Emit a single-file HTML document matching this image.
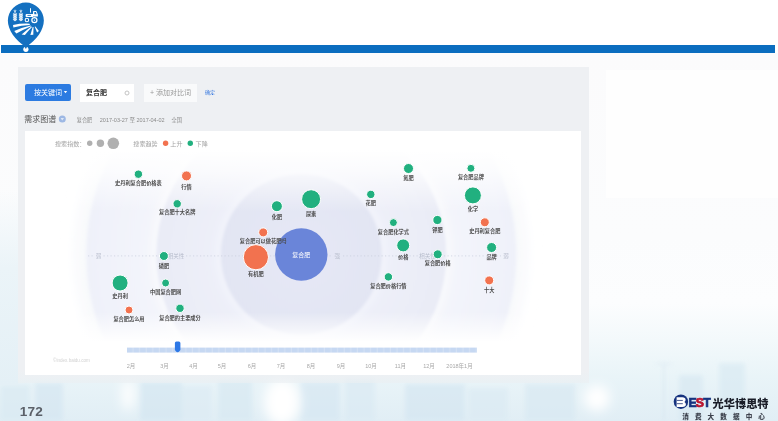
<!DOCTYPE html>
<html><head><meta charset="utf-8">
<style>
*{margin:0;padding:0;box-sizing:border-box}
html,body{width:778px;height:421px;overflow:hidden;background:#fff}
body{position:relative;font-family:"Liberation Sans","Noto Sans CJK SC",sans-serif}
.abs{position:absolute}
#bg{left:0;top:53px;width:778px;height:368px;background:linear-gradient(180deg,#fbfbfc 0%,#fbfcfd 50%,#fcfdfe 68%,#f3f9fb 78%,#e9f4f8 88%,#e1eef5 100%)}
#bar{left:1px;top:45px;width:774px;height:8px;background:#0b6dbf}
#panel{left:18px;top:67px;width:571px;height:316px;background:linear-gradient(180deg,#eef0f3 0%,#eef0f3 96%,rgba(235,239,242,0.6) 100%)}
#chart{left:25px;top:131px;width:556px;height:244px;background:#fff}
.btn{left:25px;top:84px;width:46px;height:17px;background:#2c7be1;border-radius:2px;color:#fff;font-size:7px;line-height:17px;padding-left:9px;font-family:"Liberation Sans","Noto Sans CJK SC",sans-serif}
.inp{background:#fff;height:18px;top:84px}
.t{position:absolute;white-space:nowrap;font-family:"Liberation Sans","Noto Sans CJK SC",sans-serif}
#num{left:19.8px;top:404px;font-size:13.6px;letter-spacing:0.2px;font-weight:bold;color:#5b6068}
</style></head><body>
<div id="bg" class="abs"></div>
<svg class="abs" style="left:0;top:53px" width="778" height="368" viewBox="0 53 778 368">
<defs>
<filter id="bl" x="-20%" y="-20%" width="140%" height="140%"><feGaussianBlur stdDeviation="2.2"/></filter>
<filter id="bl2" x="-50%" y="-50%" width="200%" height="200%"><feGaussianBlur stdDeviation="6"/></filter>
</defs>
<g filter="url(#bl)" opacity="0.6">
<rect x="0" y="385" width="30" height="36" fill="#d8e9f2"/>
<rect x="35" y="383" width="28" height="38" fill="#d3e5f1"/>
<rect x="140" y="382" width="42" height="39" fill="#d2e5f1"/>
<rect x="182" y="386" width="30" height="35" fill="#dcebf4"/>
<rect x="218" y="380" width="34" height="41" fill="#d6e8f2"/>
<rect x="300" y="382" width="40" height="39" fill="#d4e6f2"/>
<rect x="345" y="378" width="30" height="43" fill="#d9e9f3"/>
<rect x="405" y="384" width="60" height="37" fill="#d3e5f1"/>
<rect x="468" y="388" width="40" height="33" fill="#daeaf3"/>
<rect x="525" y="384" width="50" height="37" fill="#d7e8f2"/>
<rect x="679" y="375" width="24" height="46" fill="#d5e7f1"/>
<rect x="719" y="363" width="26" height="58" fill="#d7e9f2"/>
<rect x="663" y="364" width="1.6" height="57" fill="#cfe0ec"/><rect x="656" y="363" width="16" height="1.4" fill="#d3e3ee"/>
</g>
<g filter="url(#bl2)">
<ellipse cx="128" cy="395" rx="6" ry="16" fill="#ffffff"/>
<ellipse cx="282" cy="402" rx="18" ry="24" fill="#ffffff"/>
<ellipse cx="597" cy="398" rx="13" ry="13" fill="#ffffff"/>
</g>
</svg>
<!-- logo -->
<svg class="abs" style="left:0;top:0" width="60" height="56" viewBox="0 0 60 56">
  <path d="M25.85 47.2 C15 40 7.85 30 7.85 20.6 A18 18 0 0 1 43.85 20.6 C43.85 30 36.7 40 25.85 47.2 Z" fill="#1470c0"/>
  <g fill="#fff" stroke="#fff" stroke-width="0.35" stroke-linejoin="round"><path d="M14.85 14.20 l-1.5 -0.9 l0 1.2 l1.5 0.9 z"/><path d="M15.15 14.20 l1.5 -0.9 l0 1.2 l-1.5 0.9 z"/><path d="M14.85 16.00 l-1.5 -0.9 l0 1.2 l1.5 0.9 z"/><path d="M15.15 16.00 l1.5 -0.9 l0 1.2 l-1.5 0.9 z"/><path d="M14.85 17.80 l-1.5 -0.9 l0 1.2 l1.5 0.9 z"/><path d="M15.15 17.80 l1.5 -0.9 l0 1.2 l-1.5 0.9 z"/><path d="M14.85 19.60 l-1.5 -0.9 l0 1.2 l1.5 0.9 z"/><path d="M15.15 19.60 l1.5 -0.9 l0 1.2 l-1.5 0.9 z"/><path d="M20.75 14.20 l-1.5 -0.9 l0 1.2 l1.5 0.9 z"/><path d="M21.05 14.20 l1.5 -0.9 l0 1.2 l-1.5 0.9 z"/><path d="M20.75 16.00 l-1.5 -0.9 l0 1.2 l1.5 0.9 z"/><path d="M21.05 16.00 l1.5 -0.9 l0 1.2 l-1.5 0.9 z"/><path d="M20.75 17.80 l-1.5 -0.9 l0 1.2 l1.5 0.9 z"/><path d="M21.05 17.80 l1.5 -0.9 l0 1.2 l-1.5 0.9 z"/><path d="M20.75 19.60 l-1.5 -0.9 l0 1.2 l1.5 0.9 z"/><path d="M21.05 19.60 l1.5 -0.9 l0 1.2 l-1.5 0.9 z"/></g>
  <g stroke="#fff" stroke-width="0.6" fill="none">
    <path d="M15 11.5 V21.2 M20.9 11.5 V21.2 M13.9 10 L15 12.3 L16.1 10 M19.8 10 L20.9 12.3 L22 10 M15 9.6 V11.5 M20.9 9.6 V11.5"/>
  </g>
  <g stroke="#fff" fill="none">
    <circle cx="34.4" cy="20.1" r="2.55" stroke-width="1.25"/>
    <circle cx="26.9" cy="19.9" r="1.75" stroke-width="1.05"/>
    <path d="M30.5 8.2 V12.6" stroke-width="0.95"/>
  </g>
  <circle cx="34.4" cy="20.1" r="0.7" fill="#fff"/>
  <path d="M33.2 11 H36.4 L37.9 14.6 V16.6 H32.7 Z" fill="#fff"/>
  <path d="M34.3 12 H35.8 L36.7 14.3 H34.3 Z" fill="#1470c0"/>
  <path d="M26.6 14.1 H33 V17 H26.3 Q25.6 17 25.6 16.2 V15.1 Q25.6 14.1 26.6 14.1 Z" fill="#fff"/>
  <rect x="27.4" y="14.9" width="3.6" height="0.9" fill="#1470c0"/>
  <g fill="#fff">
    <path d="M13 24.9 Q21 23.3 29.6 23.7 L29.9 24.9 Q21.5 25.1 13.4 27.4 Z"/>
    <path d="M14.2 31.1 Q22 27.3 30.6 25.4 L31.1 26.3 Q23.5 29.5 16.4 33.5 Z"/>
    <path d="M21.6 34.4 Q26.5 30 31.4 26.4 L32 26.9 Q28.2 30.8 24.9 35 Z"/>
    <path d="M30.4 35 L32.7 26.9 L33.5 26.9 L33.3 34.8 Z"/>
    <path d="M34.7 26.7 L35.4 26.5 L38.9 31 L37.1 32.6 Z"/>
  </g>
</svg>
<div class="abs" style="left:606px;top:70px;width:172px;height:128px;background:#fefefe"></div>
<div class="abs" style="left:0;top:190px;width:18px;height:195px;background:linear-gradient(180deg,rgba(238,246,249,0) 0%,#ebf4f8 40%,#e4f0f6 100%)"></div>
<div id="bar" class="abs"></div>
<svg class="abs" style="left:0;top:40px" width="60" height="16" viewBox="0 40 60 16"><circle cx="25.9" cy="49.3" r="2.6" fill="#fff"/><path d="M23.5 45 L28.2 45 L25.85 48.9 Z" fill="#1470c0"/></svg>
<div id="panel" class="abs"></div>
<div id="chart" class="abs"></div>

<!--CHART-->
<svg class="abs" style="left:0;top:0" width="778" height="421" viewBox="0 0 778 421">
<defs>
<radialGradient id="r1" cx="301.3" cy="254.5" r="215" gradientUnits="userSpaceOnUse"><stop offset="0.66" stop-color="#f4f5fb"/><stop offset="1" stop-color="#eff1f9"/></radialGradient>
<radialGradient id="r2" cx="301.3" cy="254.5" r="145" gradientUnits="userSpaceOnUse"><stop offset="0.55" stop-color="#eef0f9"/><stop offset="1" stop-color="#e9ebf6"/></radialGradient>
<radialGradient id="r3" cx="301.3" cy="254.5" r="80" gradientUnits="userSpaceOnUse"><stop offset="0" stop-color="#e6e8f5"/><stop offset="1" stop-color="#e2e5f3"/></radialGradient>
<filter id="glow2" x="-20%" y="-20%" width="140%" height="140%"><feGaussianBlur stdDeviation="7"/></filter>
<filter id="glow" x="-20%" y="-20%" width="140%" height="140%"><feGaussianBlur stdDeviation="3.5"/></filter>
<filter id="soft" x="-5%" y="-5%" width="110%" height="110%"><feGaussianBlur stdDeviation="1.6"/></filter>
<linearGradient id="fadeT" x1="0" y1="0" x2="0" y2="1"><stop offset="0" stop-color="#fff" stop-opacity="1"/><stop offset="0.35" stop-color="#fff" stop-opacity="0.75"/><stop offset="1" stop-color="#fff" stop-opacity="0"/></linearGradient>
<linearGradient id="fadeB" x1="0" y1="0" x2="0" y2="1"><stop offset="0" stop-color="#fff" stop-opacity="0"/><stop offset="1" stop-color="#fff" stop-opacity="1"/></linearGradient>
<clipPath id="cc"><rect x="25" y="150" width="556" height="192"/></clipPath>
</defs>
<g clip-path="url(#cc)"><g filter="url(#soft)">
<circle cx="301.3" cy="254.5" r="226" fill="#f8f9fc" filter="url(#glow2)"/>
<circle cx="301.3" cy="254.5" r="215" fill="url(#r1)"/>
<circle cx="301.3" cy="254.5" r="150" fill="#f9fafd" filter="url(#glow)"/>
<circle cx="301.3" cy="254.5" r="145" fill="url(#r2)"/>
<circle cx="301.3" cy="254.5" r="85" fill="#f3f4fb" filter="url(#glow)"/>
<circle cx="301.3" cy="254.5" r="80.5" fill="url(#r3)"/>
</g>
<rect x="25" y="150" width="556" height="62" fill="url(#fadeT)"/>
<rect x="25" y="312" width="556" height="30" fill="url(#fadeB)"/>
</g>
<line x1="88" y1="255.9" x2="94.5" y2="255.9" stroke="#c6cbdb" stroke-width="0.7" stroke-dasharray="1.2 2.3"/>
<line x1="103.5" y1="255.9" x2="167" y2="255.9" stroke="#c6cbdb" stroke-width="0.7" stroke-dasharray="1.2 2.3"/>
<line x1="186" y1="255.9" x2="332" y2="255.9" stroke="#c6cbdb" stroke-width="0.7" stroke-dasharray="1.2 2.3"/>
<line x1="343" y1="255.9" x2="419" y2="255.9" stroke="#c6cbdb" stroke-width="0.7" stroke-dasharray="1.2 2.3"/>
<line x1="437" y1="255.9" x2="501" y2="255.9" stroke="#c6cbdb" stroke-width="0.7" stroke-dasharray="1.2 2.3"/>
<text x="98.5" y="257.5" text-anchor="middle" style="font-family:&quot;Liberation Sans&quot;,&quot;Noto Sans CJK SC&quot;,sans-serif;font-size:5.5px;fill:#b6bccb">弱</text>
<text x="176" y="257.5" text-anchor="middle" style="font-family:&quot;Liberation Sans&quot;,&quot;Noto Sans CJK SC&quot;,sans-serif;font-size:5.5px;fill:#b6bccb">相关性</text>
<text x="337.3" y="257.5" text-anchor="middle" style="font-family:&quot;Liberation Sans&quot;,&quot;Noto Sans CJK SC&quot;,sans-serif;font-size:5.5px;fill:#b6bccb">强</text>
<text x="427.5" y="257.5" text-anchor="middle" style="font-family:&quot;Liberation Sans&quot;,&quot;Noto Sans CJK SC&quot;,sans-serif;font-size:5.5px;fill:#b6bccb">相关性</text>
<text x="506" y="257.5" text-anchor="middle" style="font-family:&quot;Liberation Sans&quot;,&quot;Noto Sans CJK SC&quot;,sans-serif;font-size:5.5px;fill:#b6bccb">弱</text>
<circle cx="301.3" cy="254.5" r="26.2" fill="#6a85d9"/>
<text x="301.3" y="256.5" text-anchor="middle" style="font-family:&quot;Liberation Sans&quot;,&quot;Noto Sans CJK SC&quot;,sans-serif;font-size:6px;fill:#fff">复合肥</text>
<circle cx="138.4" cy="174.2" r="4.2" fill="#21b07f" stroke="#fff" stroke-width="1"/>
<text x="138.4" y="185.20000000000002" text-anchor="middle" style="font-family:&quot;Liberation Sans&quot;,&quot;Noto Sans CJK SC&quot;,sans-serif;font-size:5.2px;font-weight:bold;fill:#4a4a4a">史丹利复合肥价格表</text>
<circle cx="186.5" cy="175.9" r="5" fill="#f2724f" stroke="#fff" stroke-width="1"/>
<text x="186.5" y="188.5" text-anchor="middle" style="font-family:&quot;Liberation Sans&quot;,&quot;Noto Sans CJK SC&quot;,sans-serif;font-size:5.2px;font-weight:bold;fill:#4a4a4a">行情</text>
<circle cx="177.2" cy="203.8" r="4.2" fill="#21b07f" stroke="#fff" stroke-width="1"/>
<text x="177.2" y="214.4" text-anchor="middle" style="font-family:&quot;Liberation Sans&quot;,&quot;Noto Sans CJK SC&quot;,sans-serif;font-size:5.2px;font-weight:bold;fill:#4a4a4a">复合肥十大名牌</text>
<circle cx="163.9" cy="256" r="4.5" fill="#21b07f" stroke="#fff" stroke-width="1"/>
<text x="163.9" y="268.1" text-anchor="middle" style="font-family:&quot;Liberation Sans&quot;,&quot;Noto Sans CJK SC&quot;,sans-serif;font-size:5.2px;font-weight:bold;fill:#4a4a4a">磷肥</text>
<circle cx="120.1" cy="283" r="8" fill="#21b07f" stroke="#fff" stroke-width="1"/>
<text x="120.1" y="297.90000000000003" text-anchor="middle" style="font-family:&quot;Liberation Sans&quot;,&quot;Noto Sans CJK SC&quot;,sans-serif;font-size:5.2px;font-weight:bold;fill:#4a4a4a">史丹利</text>
<circle cx="165.6" cy="283" r="4" fill="#21b07f" stroke="#fff" stroke-width="1"/>
<text x="165.6" y="294.3" text-anchor="middle" style="font-family:&quot;Liberation Sans&quot;,&quot;Noto Sans CJK SC&quot;,sans-serif;font-size:5.2px;font-weight:bold;fill:#4a4a4a">中国复合肥网</text>
<circle cx="129" cy="310" r="4" fill="#f2724f" stroke="#fff" stroke-width="1"/>
<text x="129" y="320.8" text-anchor="middle" style="font-family:&quot;Liberation Sans&quot;,&quot;Noto Sans CJK SC&quot;,sans-serif;font-size:5.2px;font-weight:bold;fill:#4a4a4a">复合肥怎么用</text>
<circle cx="180" cy="308.3" r="4.2" fill="#21b07f" stroke="#fff" stroke-width="1"/>
<text x="180" y="319.5" text-anchor="middle" style="font-family:&quot;Liberation Sans&quot;,&quot;Noto Sans CJK SC&quot;,sans-serif;font-size:5.2px;font-weight:bold;fill:#4a4a4a">复合肥的主要成分</text>
<circle cx="255.9" cy="257.2" r="12.6" fill="#f2724f" stroke="#fff" stroke-width="1"/>
<text x="255.9" y="276.1" text-anchor="middle" style="font-family:&quot;Liberation Sans&quot;,&quot;Noto Sans CJK SC&quot;,sans-serif;font-size:5.2px;font-weight:bold;fill:#4a4a4a">有机肥</text>
<circle cx="263.2" cy="232.4" r="4.5" fill="#f2724f" stroke="#fff" stroke-width="1"/>
<text x="263.2" y="242.9" text-anchor="middle" style="font-family:&quot;Liberation Sans&quot;,&quot;Noto Sans CJK SC&quot;,sans-serif;font-size:5.2px;font-weight:bold;fill:#4a4a4a">复合肥可以做花肥吗</text>
<circle cx="276.9" cy="206.2" r="5.5" fill="#21b07f" stroke="#fff" stroke-width="1"/>
<text x="276.9" y="218.70000000000002" text-anchor="middle" style="font-family:&quot;Liberation Sans&quot;,&quot;Noto Sans CJK SC&quot;,sans-serif;font-size:5.2px;font-weight:bold;fill:#4a4a4a">化肥</text>
<circle cx="311.1" cy="199.2" r="9.5" fill="#21b07f" stroke="#fff" stroke-width="1"/>
<text x="311.1" y="216.0" text-anchor="middle" style="font-family:&quot;Liberation Sans&quot;,&quot;Noto Sans CJK SC&quot;,sans-serif;font-size:5.2px;font-weight:bold;fill:#4a4a4a">尿素</text>
<circle cx="408.5" cy="168.5" r="5" fill="#21b07f" stroke="#fff" stroke-width="1"/>
<text x="408.5" y="180.0" text-anchor="middle" style="font-family:&quot;Liberation Sans&quot;,&quot;Noto Sans CJK SC&quot;,sans-serif;font-size:5.2px;font-weight:bold;fill:#4a4a4a">氮肥</text>
<circle cx="370.8" cy="194.4" r="4.2" fill="#21b07f" stroke="#fff" stroke-width="1"/>
<text x="370.8" y="205.20000000000002" text-anchor="middle" style="font-family:&quot;Liberation Sans&quot;,&quot;Noto Sans CJK SC&quot;,sans-serif;font-size:5.2px;font-weight:bold;fill:#4a4a4a">花肥</text>
<circle cx="393.4" cy="222.6" r="4" fill="#21b07f" stroke="#fff" stroke-width="1"/>
<text x="393.4" y="233.5" text-anchor="middle" style="font-family:&quot;Liberation Sans&quot;,&quot;Noto Sans CJK SC&quot;,sans-serif;font-size:5.2px;font-weight:bold;fill:#4a4a4a">复合肥化学式</text>
<circle cx="437.4" cy="220" r="4.6" fill="#21b07f" stroke="#fff" stroke-width="1"/>
<text x="437.4" y="231.8" text-anchor="middle" style="font-family:&quot;Liberation Sans&quot;,&quot;Noto Sans CJK SC&quot;,sans-serif;font-size:5.2px;font-weight:bold;fill:#4a4a4a">钾肥</text>
<circle cx="470.9" cy="168.3" r="4" fill="#21b07f" stroke="#fff" stroke-width="1"/>
<text x="470.9" y="179.4" text-anchor="middle" style="font-family:&quot;Liberation Sans&quot;,&quot;Noto Sans CJK SC&quot;,sans-serif;font-size:5.2px;font-weight:bold;fill:#4a4a4a">复合肥品牌</text>
<circle cx="472.9" cy="195.4" r="8.5" fill="#21b07f" stroke="#fff" stroke-width="1"/>
<text x="472.9" y="210.9" text-anchor="middle" style="font-family:&quot;Liberation Sans&quot;,&quot;Noto Sans CJK SC&quot;,sans-serif;font-size:5.2px;font-weight:bold;fill:#4a4a4a">化学</text>
<circle cx="484.8" cy="222.3" r="4.5" fill="#f2724f" stroke="#fff" stroke-width="1"/>
<text x="484.8" y="232.8" text-anchor="middle" style="font-family:&quot;Liberation Sans&quot;,&quot;Noto Sans CJK SC&quot;,sans-serif;font-size:5.2px;font-weight:bold;fill:#4a4a4a">史丹利复合肥</text>
<circle cx="403.2" cy="245.4" r="6.5" fill="#21b07f" stroke="#fff" stroke-width="1"/>
<text x="403.2" y="258.5" text-anchor="middle" style="font-family:&quot;Liberation Sans&quot;,&quot;Noto Sans CJK SC&quot;,sans-serif;font-size:5.2px;font-weight:bold;fill:#4a4a4a">价格</text>
<circle cx="437.7" cy="254.3" r="4.5" fill="#21b07f" stroke="#fff" stroke-width="1"/>
<text x="437.7" y="264.7" text-anchor="middle" style="font-family:&quot;Liberation Sans&quot;,&quot;Noto Sans CJK SC&quot;,sans-serif;font-size:5.2px;font-weight:bold;fill:#4a4a4a">复合肥价格</text>
<circle cx="491.6" cy="247.5" r="5" fill="#21b07f" stroke="#fff" stroke-width="1"/>
<text x="491.6" y="258.5" text-anchor="middle" style="font-family:&quot;Liberation Sans&quot;,&quot;Noto Sans CJK SC&quot;,sans-serif;font-size:5.2px;font-weight:bold;fill:#4a4a4a">品牌</text>
<circle cx="388.4" cy="276.9" r="4.2" fill="#21b07f" stroke="#fff" stroke-width="1"/>
<text x="388.4" y="287.8" text-anchor="middle" style="font-family:&quot;Liberation Sans&quot;,&quot;Noto Sans CJK SC&quot;,sans-serif;font-size:5.2px;font-weight:bold;fill:#4a4a4a">复合肥价格行情</text>
<circle cx="489.2" cy="280.4" r="4.5" fill="#f2724f" stroke="#fff" stroke-width="1"/>
<text x="489.2" y="291.8" text-anchor="middle" style="font-family:&quot;Liberation Sans&quot;,&quot;Noto Sans CJK SC&quot;,sans-serif;font-size:5.2px;font-weight:bold;fill:#4a4a4a">十大</text>
<text x="55" y="145.6" style="font-family:&quot;Liberation Sans&quot;,&quot;Noto Sans CJK SC&quot;,sans-serif;font-size:6.1px;fill:#a3a3a3">搜索指数：</text>
<circle cx="89.7" cy="143.3" r="2.7" fill="#b0b0b0"/>
<circle cx="100.4" cy="143.3" r="3.7" fill="#b0b0b0"/>
<circle cx="113.3" cy="143.3" r="5.8" fill="#b0b0b0"/>
<text x="133.3" y="145.6" style="font-family:&quot;Liberation Sans&quot;,&quot;Noto Sans CJK SC&quot;,sans-serif;font-size:6.1px;fill:#a3a3a3">搜索趋势</text>
<circle cx="165.6" cy="143.3" r="2.7" fill="#f2724f"/>
<text x="170.3" y="145.6" style="font-family:&quot;Liberation Sans&quot;,&quot;Noto Sans CJK SC&quot;,sans-serif;font-size:6.1px;fill:#a3a3a3">上升</text>
<circle cx="190.3" cy="143.3" r="2.7" fill="#21b07f"/>
<text x="195.6" y="145.6" style="font-family:&quot;Liberation Sans&quot;,&quot;Noto Sans CJK SC&quot;,sans-serif;font-size:6.1px;fill:#a3a3a3">下降</text>
</svg>
<!--/CHART-->
<!--SLIDER-->
<svg class="abs" style="left:0;top:0" width="778" height="421" viewBox="0 0 778 421">
<defs><pattern id="seg" x="127" y="0" width="6.6" height="10" patternUnits="userSpaceOnUse"><rect x="0" y="0" width="6.6" height="10" fill="#d3e0f4"/><rect x="0" y="0" width="5.4" height="10" fill="#c6d8f2"/></pattern></defs>
<rect x="127" y="347.6" width="350" height="5" fill="url(#seg)"/>
<path d="M174.9 343.1 Q174.9 341.6 176.4 341.6 L178.9 341.6 Q180.4 341.6 180.4 343.1 L180.4 350 Q179 352.3 177.65 352.3 Q176.3 352.3 174.9 350 Z" fill="#2d78e6"/>
<g style="font-family:&quot;Liberation Sans&quot;,&quot;Noto Sans CJK SC&quot;,sans-serif;font-size:5.5px;fill:#a8a8a8" text-anchor="middle">
<text x="131" y="368">2月</text><text x="164.5" y="368">3月</text><text x="193.5" y="368">4月</text><text x="222" y="368">5月</text><text x="252" y="368">6月</text><text x="281" y="368">7月</text><text x="311" y="368">8月</text><text x="341" y="368">9月</text><text x="371" y="368">10月</text><text x="400.4" y="368">11月</text><text x="429" y="368">12月</text><text x="459.5" y="368">2018年1月</text>
</g>
<text x="53" y="361.5" style="font-family:&quot;Liberation Sans&quot;,sans-serif;font-size:4.6px;fill:#d2d2d2">©index.baidu.com</text>
</svg>
<!--/SLIDER-->
<div class="abs btn">按关键词</div>
<svg class="abs" style="left:63px;top:90px" width="6" height="5"><path d="M0.8 1 L4.2 1 L2.5 3.2 Z" fill="#fff"/></svg>
<div class="abs inp" style="left:80px;width:54px"></div>
<div class="t" style="left:86px;top:87px;font-size:7px;font-weight:bold;color:#333">复合肥</div>
<div class="abs inp" style="left:144px;width:53px;background:#f9fafb"></div>
<div class="t" style="left:150px;top:87px;font-size:7px;color:#999">+ 添加对比词</div>
<div class="t" style="left:205px;top:88px;font-size:5px;color:#3b7be0">确定</div>

<div class="t" style="left:24.3px;top:113.4px;font-size:8px;color:#555">需求图谱</div>
<div class="t" style="left:76.7px;top:116px;font-size:5.2px;color:#8a8a8a">复合肥</div>
<div class="t" style="left:99.8px;top:116px;font-size:5.5px;color:#8a8a8a">2017-03-27 至 2017-04-02</div>
<div class="t" style="left:171.5px;top:116px;font-size:5.2px;color:#8a8a8a">全国</div>
<svg class="abs" style="left:58px;top:115px" width="9" height="9"><circle cx="4.3" cy="4.1" r="3.5" fill="#9db8e4"/><path d="M2.6 3.1 L6 3.1 L4.3 5.6 Z" fill="#dfe8f6"/></svg>
<svg class="abs" style="left:123px;top:89px" width="8" height="8"><circle cx="4" cy="4" r="2" fill="none" stroke="#c4c4c4" stroke-width="1"/></svg>

<!--BEST-->
<svg class="abs" style="left:660px;top:388px" width="118" height="33" viewBox="660 388 118 33">
<circle cx="680.9" cy="401.7" r="7.2" fill="#17337f"/>
<path d="M676.6 397.2 H682.3 Q685.6 397.2 685.6 399.7 Q685.6 401.3 684.4 401.9 Q685.9 402.5 685.9 404.3 Q685.9 406.9 682.4 406.9 H676.6 Z" fill="#fff"/>
<rect x="676.6" y="399.9" width="6.2" height="1.1" fill="#5a6a9a"/>
<rect x="676.6" y="403.1" width="6.2" height="1.1" fill="#5a6a9a"/>
<text x="688.6" y="406.6" stroke-width="0.7" style="font-family:&quot;Liberation Sans&quot;,sans-serif;font-weight:bold;font-size:12.4px;letter-spacing:-1px" fill="#17337f" stroke="#17337f">E<tspan fill="#bb1530" stroke="#bb1530">S</tspan>T</text>
<text x="712.6" y="407.6" style="font-family:&quot;Noto Sans CJK SC&quot;,sans-serif;font-weight:900;font-size:11.2px" fill="#1a1d28">光华博思特</text>
<text x="682.2" y="418.8" style="font-family:&quot;Noto Sans CJK SC&quot;,sans-serif;font-weight:900;font-size:6.6px;letter-spacing:6.1px" fill="#3e434e">消费大数据中心</text>
</svg>
<!--/BEST-->
<div class="t" id="num">172</div>
</body></html>
